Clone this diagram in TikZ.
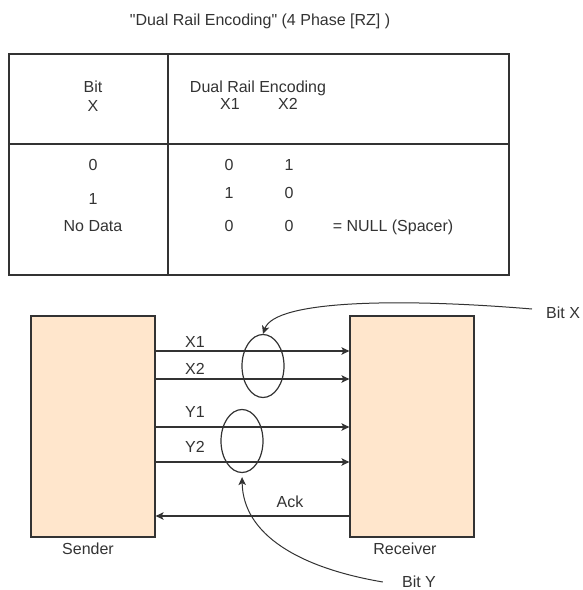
\documentclass[tikz,border=0pt]{standalone}
\usepackage{fontspec}
\setmainfont{Liberation Sans}[Ligatures=TeXOff]
\usetikzlibrary{arrows.meta,shapes.geometric}
\definecolor{peach}{HTML}{FFE6CC}
\definecolor{ink}{HTML}{333333}

\begin{document}
\begin{tikzpicture}[
        x=1pt, y=-1pt,
        txt/.style={inner sep=0pt, text height=11.5pt, text depth=0pt,
            text=ink, font=\fontsize{16}{19}\selectfont},
        rule/.style={draw=ink, line width=1.2pt},
        unit/.style={rule, fill=peach, minimum width=124pt,
            minimum height=221pt, inner sep=0pt},
        wire/.style={rule, -{Stealth[length=8pt,width=7.5pt,inset=2pt]}},
        bundle/.style={rule, ellipse, minimum width=42pt,
            minimum height=63pt, inner sep=0pt},
        pointer/.style={rule, line width=1pt,
            -{Stealth[length=8pt,width=7.5pt,inset=2pt]}},
    ]
  \useasboundingbox (0,0) rectangle (582,590);

  % encoding table
  \node[txt] (title) at (260,20) {"Dual Rail Encoding" (4 Phase [RZ] )};
  \draw[rule] (9,54) rectangle (509,275);
  \draw[rule] (168,54) -- (168,275);
  \draw[rule] (9,144) -- (509,144);

  \node[txt] (hbit) at (93,87) {Bit};
  \node[txt] (hx) at (93,106) {X};
  \node[txt] (henc) at (258,87) {Dual Rail Encoding};
  \node[txt] (hxa) at (230,104) {X1};
  \node[txt] (hxb) at (288,104) {X2};

  \foreach \bit/\ya/\yb/\va/\vb in {0/165/165/0/1, 1/199/193/1/0, No Data/226/226/0/0} {
    \node[txt] at (93,\ya) {\bit};
    \node[txt] at (229,\yb) {\va};
    \node[txt] at (289,\yb) {\vb};
  }
  \node[txt] (null) at (393,226) {= NULL (Spacer)};

  % handshake channel
  \node[unit] (snd) at (93,426.5) {};
  \node[unit] (rcv) at (412,426.5) {};
  \node[txt] (sndlbl) at (88,549) {Sender};
  \node[txt] (rcvlbl) at (405,549) {Receiver};

  \foreach \rail/\yy/\ly in {X1/351/342, X2/379/369, Y1/427/412, Y2/462/447} {
    \coordinate (l\rail) at (0,\yy);
    \draw[wire] (snd.east |- l\rail) -- (rcv.west |- l\rail);
    \node[txt] (lbl\rail) at (195,\ly) {\rail};
  }

  \coordinate (lack) at (0,516);
  \draw[wire] (rcv.west |- lack) -- (snd.east |- lack);
  \node[txt] (ack) at (290,502) {Ack};

  \node[bundle] (bx) at (263,366) {};
  \node[bundle] (by) at (242,441) {};

  \node[txt, anchor=west] (bitx) at (546,313) {Bit X};
  \node[txt] (bity) at (419,582) {Bit Y};

  \draw[pointer] ([xshift=-14pt,yshift=4pt]bitx.west)
    .. controls (400,298) and (275,300) .. (bx.north);
  \draw[pointer, shorten >=4pt] ([xshift=-19pt]bity.west)
    .. controls (300,568) and (243,535) .. (by.south);
\end{tikzpicture}
\end{document}
